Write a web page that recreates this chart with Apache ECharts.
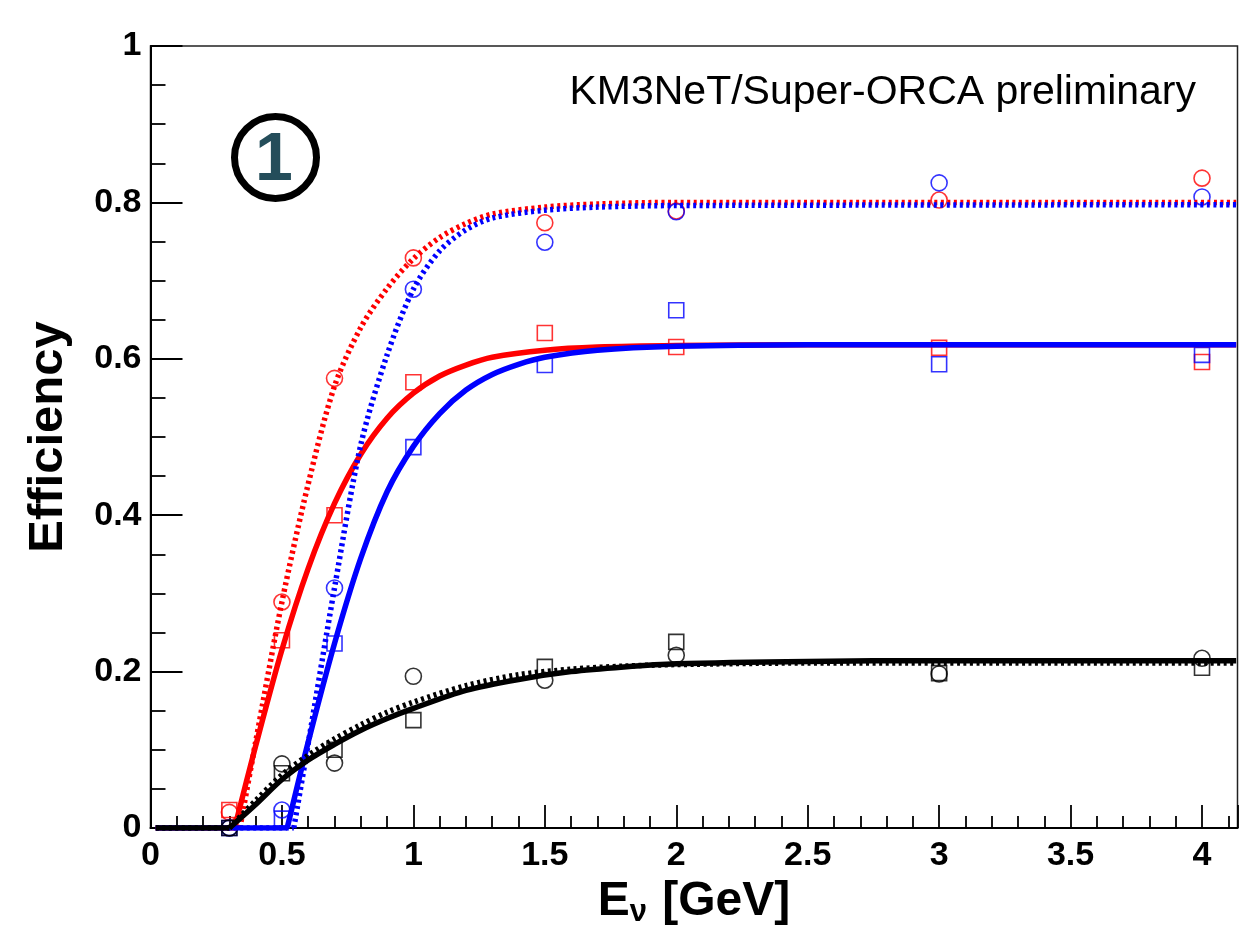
<!DOCTYPE html>
<html>
<head>
<meta charset="utf-8">
<script src="https://cdn.jsdelivr.net/npm/echarts@6/dist/echarts.min.js"></script>
<style>
html,body{margin:0;padding:0;background:#fff;}
#chart{width:1240px;height:946px;}
</style>
</head>
<body>
<div id="chart"></div>
<script>
// ---- data ----
const energies = [0.3, 0.5, 0.7, 1.0, 1.5, 2.0, 3.0, 4.0];
const redCircles   = [0.020, 0.289, 0.575, 0.729, 0.774, 0.789, 0.803, 0.831];
const redSquares   = [0.023, 0.240, 0.400, 0.570, 0.633, 0.615, 0.614, 0.596];
const blueCircles  = [0.000, 0.023, 0.307, 0.689, 0.749, 0.788, 0.825, 0.807];
const blueSquares  = [0.000, 0.012, 0.236, 0.487, 0.592, 0.662, 0.593, 0.605];
const blackCircles = [0.000, 0.082, 0.083, 0.194, 0.189, 0.221, 0.197, 0.217];
const blackSquares = [0.000, 0.070, 0.100, 0.138, 0.206, 0.238, 0.198, 0.205];

// fitted curves
const redSolidX  = [0.02, 0.32, 0.4, 0.5, 0.6, 0.7, 0.8, 0.9, 1.0, 1.1, 1.2, 1.3, 1.5, 1.7, 2.0, 2.5, 4.13];
const redSolidY  = [0, 0, 0.105, 0.228, 0.332, 0.415, 0.478, 0.524, 0.556, 0.578, 0.592, 0.602, 0.611, 0.615, 0.617, 0.618, 0.618];
const blueSolidX = [0.02, 0.52, 0.6, 0.7, 0.8, 0.9, 1.0, 1.1, 1.2, 1.3, 1.4, 1.5, 1.7, 2.0, 2.5, 4.13];
const blueSolidY = [0, 0, 0.11, 0.236, 0.345, 0.43, 0.488, 0.53, 0.56, 0.58, 0.593, 0.602, 0.611, 0.616, 0.618, 0.618];
const blackSolidX = [0.02, 0.3, 0.4, 0.5, 0.6, 0.7, 0.8, 0.9, 1.0, 1.2, 1.4, 1.6, 1.8, 2.0, 2.5, 3.0, 4.13];
const blackSolidY = [0, 0, 0.03, 0.062, 0.087, 0.107, 0.125, 0.14, 0.153, 0.176, 0.19, 0.2, 0.206, 0.21, 0.213, 0.214, 0.214];
const redDotX  = [0.02, 0.34, 0.4, 0.5, 0.6, 0.7, 0.8, 0.9, 1.0, 1.1, 1.2, 1.3, 1.5, 1.7, 2.0, 4.13];
const redDotY  = [0, 0, 0.11, 0.289, 0.44, 0.565, 0.64, 0.69, 0.728, 0.755, 0.773, 0.785, 0.794, 0.798, 0.8, 0.8];
const blueDotX = [0.02, 0.545, 0.6, 0.7, 0.8, 0.9, 1.0, 1.1, 1.2, 1.3, 1.5, 1.7, 2.0, 4.13];
const blueDotY = [0, 0, 0.108, 0.307, 0.49, 0.605, 0.689, 0.738, 0.765, 0.78, 0.79, 0.794, 0.796, 0.797];
const blackDotX = [0.02, 0.3, 0.4, 0.5, 0.6, 0.7, 0.8, 0.9, 1.0, 1.2, 1.4, 1.6, 1.8, 2.0, 2.5, 3.0, 4.13];
const blackDotY = [0, 0, 0.035, 0.068, 0.093, 0.114, 0.132, 0.148, 0.161, 0.182, 0.196, 0.203, 0.207, 0.209, 0.211, 0.211, 0.211];

const xTickLabels = ['0', '0.5', '1', '1.5', '2', '2.5', '3', '3.5', '4'];
const yTickLabels = ['0', '0.2', '0.4', '0.6', '0.8', '1'];

const RED = '#ff0000', BLUE = '#0000ff', BLACK = '#000000';
const FONT = '"Liberation Sans", Arial, Helvetica, sans-serif';

function pairs(xs, ys) { return xs.map((x, i) => [x, ys[i]]); }

function markerSeries(name, ys, color, symbol, z) {
  return {
    name: name, type: 'scatter', data: pairs(energies, ys),
    symbol: symbol, symbolSize: symbol === 'circle' ? 16 : 15,
    itemStyle: { color: 'rgba(0,0,0,0)', borderColor: color, borderWidth: 1.6 },
    z: z, silent: true, animation: false
  };
}
// a fit is flat at zero below its threshold, then rises: draw the flat part straight
// and the rising part smoothed, so the kink at the threshold stays sharp
function curveSeries(name, xs, ys, color, dotted, z) {
  const pts = pairs(xs, ys);
  let k = 0;
  while (k + 1 < pts.length && pts[k + 1][1] === 0) k++;
  const style = dotted ? { color: color, width: 5.5, type: [3, 3.5], cap: 'butt' }
                       : { color: color, width: 5.5 };
  const base = { type: 'line', showSymbol: false, symbol: 'none', silent: true, animation: false, z: z, lineStyle: style };
  return [
    Object.assign({}, base, { name: name + ' (flat)', data: pts.slice(0, k + 1), smooth: false }),
    Object.assign({}, base, { name: name, data: pts.slice(k), smooth: 0.3 })
  ];
}

const chart = echarts.init(document.getElementById('chart'), null, { renderer: 'canvas' });
chart.setOption({
  backgroundColor: '#ffffff',
  animation: false,
  grid: { left: 150.5, right: 2.5, top: 46, bottom: 118, show: true, borderColor: '#222', borderWidth: 1.5, outerBoundsMode: 'none' },
  xAxis: {
    type: 'value', min: 0, max: 4.135, interval: 0.5,
    name: 'E{s|ν} [GeV]', nameLocation: 'middle', nameGap: 46,
    nameTextStyle: { fontFamily: FONT, fontWeight: 'bold', fontSize: 48, color: '#000',
      rich: { s: { fontFamily: FONT, fontSize: 31, padding: [22, 2, 0, 0], color: '#000' } } },
    axisLine: { show: true, onZero: false, lineStyle: { color: '#000', width: 2 } },
    axisTick: { show: true, inside: true, length: 23, lineStyle: { color: '#000', width: 1.8 } },
    minorTick: { show: true, splitNumber: 5, length: 12, lineStyle: { color: '#000', width: 1.8 } },
    splitLine: { show: false },
    axisLabel: { showMaxLabel: false, margin: 11, fontFamily: FONT, fontWeight: 'bold', fontSize: 34, color: '#000',
      formatter: v => { const i = Math.round(v / 0.5); return Math.abs(v - i * 0.5) < 1e-6 && i < xTickLabels.length ? xTickLabels[i] : ''; } }
  },
  yAxis: {
    type: 'value', min: 0, max: 1, interval: 0.2,
    name: 'Efficiency', nameLocation: 'middle', nameGap: 78, nameRotate: 90,
    nameTextStyle: { fontFamily: FONT, fontWeight: 'bold', fontSize: 49, color: '#000' },
    axisLine: { show: true, onZero: false, lineStyle: { color: '#000', width: 2 } },
    axisTick: { show: true, inside: true, length: 32, lineStyle: { color: '#000', width: 1.8 } },
    minorTick: { show: true, splitNumber: 4, length: 15, lineStyle: { color: '#000', width: 1.8 } },
    splitLine: { show: false },
    axisLabel: { margin: 9, fontFamily: FONT, fontWeight: 'bold', fontSize: 34, color: '#000',
      formatter: v => { const i = Math.round(v / 0.2); return yTickLabels[i] !== undefined ? yTickLabels[i] : ''; } }
  },
  graphic: [
    { type: 'text', right: 1240 - 1196, top: 72, z: 100,
      style: { text: 'KM3NeT/Super-ORCA preliminary', font: '41px ' + FONT, fill: '#000' } },
    { type: 'circle', shape: { cx: 275.5, cy: 157.5, r: 41 }, z: 100,
      style: { fill: 'none', stroke: '#000', lineWidth: 7 } },
    { type: 'text', x: 274, y: 161, z: 101,
      style: { text: '1', font: 'bold 68px ' + FONT, fill: '#244d5a', align: 'center', verticalAlign: 'middle' } }
  ],
  series: [
    markerSeries('red circles', redCircles, RED, 'circle', 2),
    markerSeries('red squares', redSquares, RED, 'rect', 2),
    markerSeries('blue circles', blueCircles, BLUE, 'circle', 3),
    markerSeries('blue squares', blueSquares, BLUE, 'rect', 3),
    markerSeries('black circles', blackCircles, BLACK, 'circle', 4),
    markerSeries('black squares', blackSquares, BLACK, 'rect', 4)
  ].concat(
    curveSeries('red fit', redSolidX, redSolidY, RED, false, 10),
    curveSeries('red dotted fit', redDotX, redDotY, RED, true, 10),
    curveSeries('blue fit', blueSolidX, blueSolidY, BLUE, false, 11),
    curveSeries('blue dotted fit', blueDotX, blueDotY, BLUE, true, 11),
    curveSeries('black dotted fit', blackDotX, blackDotY, BLACK, true, 12),
    curveSeries('black fit', blackSolidX, blackSolidY, BLACK, false, 12)
  )
});
</script>
</body>
</html>
